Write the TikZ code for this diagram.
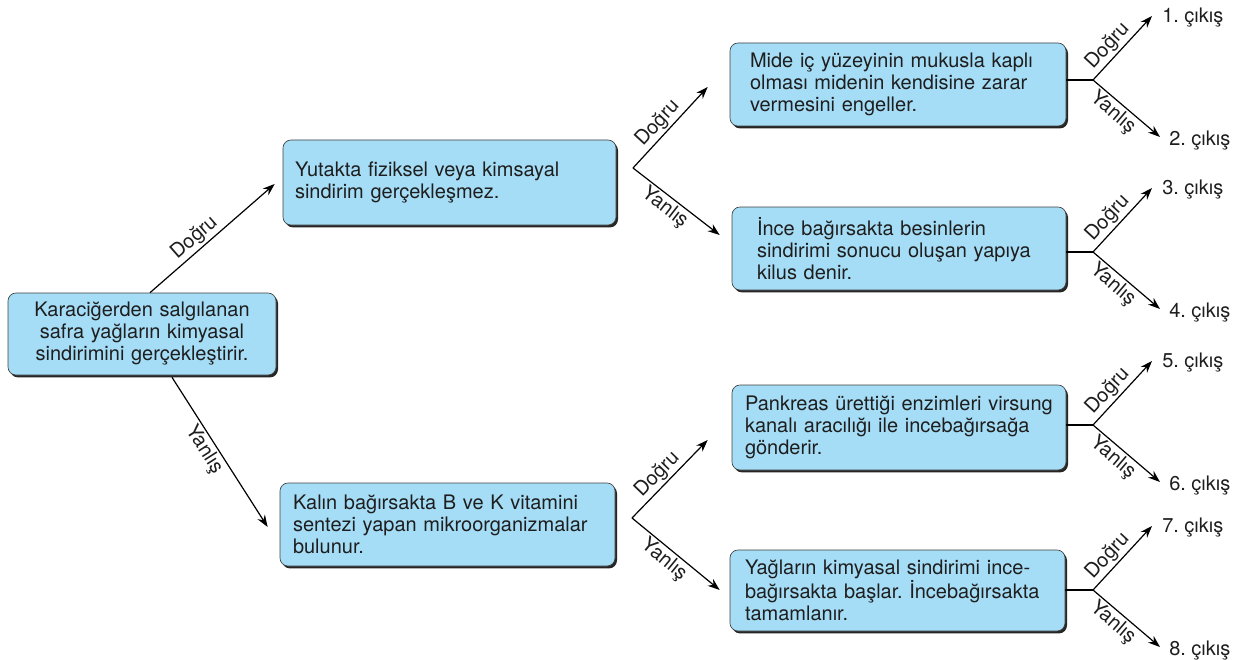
\documentclass[tikz,border=0pt]{standalone}
\usepackage{fontspec}
\setmainfont{TeX Gyre Heros}
\usetikzlibrary{arrows.meta,shadows}
\definecolor{boxblue}{RGB}{166,221,246}
\definecolor{ink}{RGB}{30,30,30}
\frenchspacing
\begin{document}
\begin{tikzpicture}[x=0.75pt,y=-0.75pt,
  font=\fontsize{15}{16.5}\selectfont, text=ink,
  box/.style={rectangle, rounded corners=6pt, fill=boxblue, draw=black!75, line width=0.5pt,
    inner ysep=0pt, align=left,
    drop shadow={shadow xshift=1.5pt, shadow yshift=-1.8pt, fill=black!85, opacity=1}},
  arr/.style={-{Stealth[length=9pt,width=6.5pt]}, line width=0.9pt},
  plain/.style={line width=0.9pt},
  lbl/.style={inner sep=1.5pt, sloped},
  outlbl/.style={anchor=west, inner sep=0pt}]
\useasboundingbox (0,0) rectangle (1240,660);

% boxes
\node[box, align=center, text width=186pt, inner xsep=7.5pt, minimum height=61.5pt] (root) at (142,334)
  {Karaciğerden salgılanan\\safra yağların kimyasal\\sindirimini gerçekleştirir.};
\node[box, text width=231.75pt, inner xsep=9pt, minimum height=63.75pt] (b2) at (449.5,182.5)
  {Yutakta fiziksel veya kimsayal\\sindirim gerçekleşmez.};
\node[box, text width=231.75pt, inner xsep=9.75pt, minimum height=62.25pt] (b3) at (447.5,524.5)
  {Kalın bağırsakta B ve K vitamini\\sentezi yapan mikroorganizmalar\\bulunur.};
\node[box, text width=222pt, inner xsep=15pt, minimum height=62.25pt] (b4) at (898,84.5)
  {Mide iç yüzeyinin mukusla kaplı\\olması midenin kendisine zarar\\vermesini engeller.};
\node[box, text width=213pt, inner xsep=18.75pt, minimum height=62.25pt] (b5) at (899,248.5)
  {İnce bağırsakta besinlerin\\sindirimi sonucu oluşan yapıya\\kilus denir.};
\node[box, text width=231pt, inner xsep=9.75pt, minimum height=63.75pt] (b6) at (899,427.5)
  {Pankreas ürettiği enzimleri virsung\\kanalı aracılığı ile incebağırsağa\\gönderir.};
\node[box, text width=228.75pt, inner xsep=11.25pt, minimum height=60.75pt] (b7) at (897.5,590.5)
  {Yağların kimyasal sindirimi ince-\\bağırsakta başlar. İncebağırsakta\\tamamlanır.};

% outputs
\node[outlbl] (o1) at (1162,18) {1. çıkış};
\node[outlbl] (o2) at (1169,141) {2. çıkış};
\node[outlbl] (o3) at (1162,190) {3. çıkış};
\node[outlbl] (o4) at (1169,313) {4. çıkış};
\node[outlbl] (o5) at (1162,363) {5. çıkış};
\node[outlbl] (o6) at (1169,486) {6. çıkış};
\node[outlbl] (o7) at (1162,528) {7. çıkış};
\node[outlbl] (o8) at (1169,651) {8. çıkış};

% fork points
\coordinate (f2) at (633,168);
\coordinate (f3) at (632,518);
\coordinate (k4) at (1093,80);
\coordinate (k5) at (1093,252);
\coordinate (k6) at (1093,425);
\coordinate (k7) at (1093,590);

% root connectors
\draw[arr] ([xshift=6pt]root.north) -- ([shift={(-8,1.5)}]b2.west)
  node[lbl, above, pos=0.42] {Doğru};
\draw[arr] ([shift={(30,2)}]root.south) -- ([shift={(-12,2.5)}]b3.west)
  node[lbl, below, pos=0.44] {Yanlış};

% middle connectors
\draw[arr] (f2) -- ([shift={(-22,2.5)}]b4.west) node[lbl, above, pos=0.45] {Doğru};
\draw[arr] (f2) -- ([shift={(-12,-13.5)}]b5.west) node[lbl, below, pos=0.45] {Yanlış};
\draw[arr] (f3) -- ([shift={(-24,12.5)}]b6.west) node[lbl, above, pos=0.45] {Doğru};
\draw[arr] (f3) -- ([shift={(-10,-0.5)}]b7.west) node[lbl, below, pos=0.45] {Yanlış};

% right connectors
\draw[plain] (b4.east |- k4) -- (k4);
\draw[arr] (k4) -- ([shift={(-10,-2)}]o1.west) node[lbl, above, pos=0.4] {Doğru};
\draw[arr] (k4) -- ([shift={(-9,-4)}]o2.west) node[lbl, below, pos=0.41] {Yanlış};
\draw[plain] (b5.east |- k5) -- (k5);
\draw[arr] (k5) -- ([shift={(-10,-2)}]o3.west) node[lbl, above, pos=0.4] {Doğru};
\draw[arr] (k5) -- ([shift={(-9,-4)}]o4.west) node[lbl, below, pos=0.41] {Yanlış};
\draw[plain] (b6.east |- k6) -- (k6);
\draw[arr] (k6) -- ([shift={(-10,-2)}]o5.west) node[lbl, above, pos=0.4] {Doğru};
\draw[arr] (k6) -- ([shift={(-9,-4)}]o6.west) node[lbl, below, pos=0.41] {Yanlış};
\draw[plain] (b7.east |- k7) -- (k7);
\draw[arr] (k7) -- ([shift={(-10,-2)}]o7.west) node[lbl, above, pos=0.4] {Doğru};
\draw[arr] (k7) -- ([shift={(-9,-4)}]o8.west) node[lbl, below, pos=0.41] {Yanlış};
\end{tikzpicture}
\end{document}
